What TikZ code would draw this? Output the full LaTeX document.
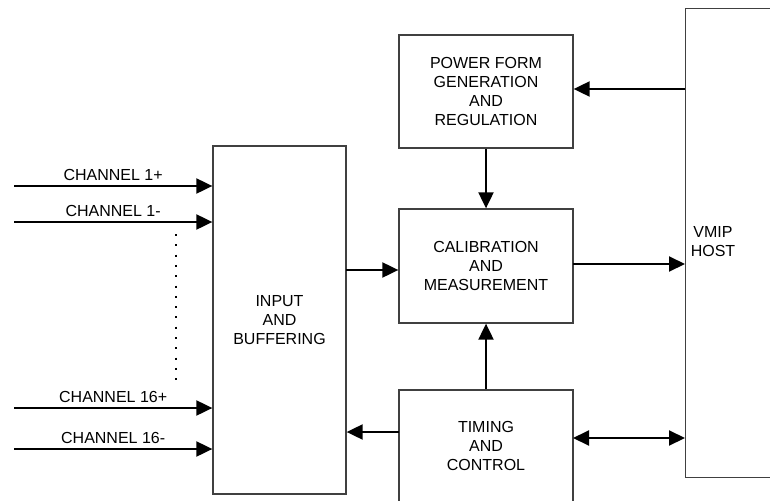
\documentclass[tikz,border=0pt]{standalone}
\usepackage{fontspec}
\setmainfont{Liberation Sans}
\usetikzlibrary{arrows.meta}
\newcommand{\etichetta}[1]{\fontsize{16}{19}\selectfont #1}

\begin{document}
\begin{tikzpicture}[x=1pt,y=-1pt,
  >={Triangle[length=16pt,width=15pt]},
  blocco/.style={draw=black!75,line width=1.3pt,align=center,inner sep=0pt,font=\fontsize{16}{19}\selectfont},
  linea/.style={line width=2pt}]
  \clip (0,0) rectangle (770,500);
  % blocchi
  \node[blocco,minimum width=133pt,minimum height=348pt] (inp) at (279.5,320) {INPUT\\AND\\BUFFERING};
  \node[blocco,minimum width=174pt,minimum height=113pt] (pwr) at (486,91.5) {POWER FORM\\GENERATION\\AND\\REGULATION};
  \node[blocco,minimum width=174pt,minimum height=114pt] (cal) at (486,266) {CALIBRATION\\AND\\MEASUREMENT};
  \node[blocco,minimum width=174pt,minimum height=112pt] (tim) at (486,446) {TIMING\\AND\\CONTROL};
  \node[blocco,anchor=north west,minimum width=115pt,minimum height=469pt] (host) at (685,8) {};
  \node[align=center,font=\fontsize{16}{19}\selectfont] (hostlbl) at (713,242) {VMIP\\HOST};
  % canali
  \foreach \y/\testo in {186/CHANNEL 1+,222/CHANNEL 1-,408/CHANNEL 16+,449/CHANNEL 16-} {
    \coordinate (ch) at (14,\y);
    \draw[linea,->] (ch) -- (ch -| inp.west) node[midway,above=1pt] {\etichetta{\testo}};
  }
  \coordinate (pa) at (176,234);
  \coordinate (pb) at (176,383);
  \draw[line width=2pt,dash pattern=on 2pt off 8.3pt] (pa) -- (pb);
  % collegamenti
  \coordinate (hp) at (685,89);
  \draw[linea,->] (hp) -- (hp -| pwr.east);
  \draw[linea,->] (pwr.south) -- (cal.north);
  \coordinate (ic) at (346,270);
  \draw[linea,->] (ic) -- (ic -| cal.west);
  \coordinate (ch2) at (573,264);
  \draw[linea,->] (ch2) -- (ch2 -| host.west);
  \draw[linea,->] (tim.north) -- (cal.south);
  \coordinate (ti) at (399,432);
  \draw[linea,->] (ti) -- (ti -| inp.east);
  \coordinate (th) at (573,438);
  \draw[linea,<->] (th) -- (th -| host.west);
\end{tikzpicture}
\end{document}
